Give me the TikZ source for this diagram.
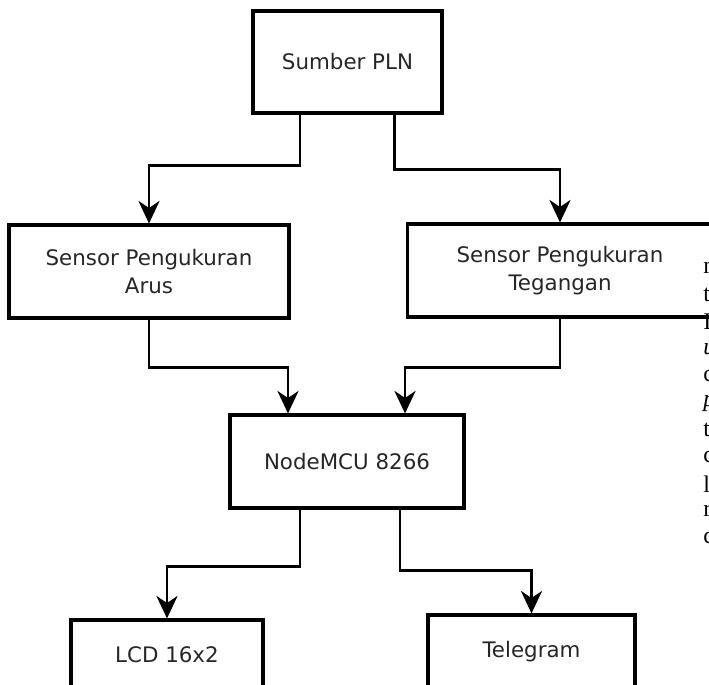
\documentclass[tikz,border=0pt]{standalone}
\usepackage{fontspec}
\setmainfont{DejaVu Sans}
\newfontfamily\halfont{Liberation Serif}
\usetikzlibrary{arrows.meta}

\begin{document}
\begin{tikzpicture}[x=0.025cm,y=-0.025cm,
    blok/.style={draw,line width=2.2pt,align=center,inner sep=0pt,
      font=\fontsize{15.2}{19.6}\selectfont,text=black!85},
    panah/.style={line width=1.9pt,-{Stealth[length=16pt,width=15pt,inset=5pt]}}]
    \useasboundingbox (0,0) rectangle (709,684);
    \clip (0,0) rectangle (709,684);
    \node[blok,minimum width=4.725cm,minimum height=2.55cm] (pln) at (347.5,62) {Sumber PLN};
    \node[blok,minimum width=7cm,minimum height=2.325cm] (arus) at (149,271.5) {Sensor Pengukuran\\Arus};
    \node[blok,minimum width=7.625cm,minimum height=2.325cm] (teg) at (560,270.5) {Sensor Pengukuran\\Tegangan};
    \node[blok,minimum width=5.85cm,minimum height=2.325cm] (mcu) at (347,461.5) {NodeMCU 8266};
    \node[blok,minimum width=4.8cm,minimum height=1.75cm] (lcd) at (167,655) {LCD 16x2};
    \node[blok,minimum width=5.175cm,minimum height=1.85cm] (tel) at (531.5,652) {Telegram};
    \draw[panah] ([xshift=-1.19cm]pln.south) -- ++(0,51) -| (arus.north);
    \draw[panah] ([xshift=1.17cm]pln.south) -- ++(0,55) -| (teg.north);
    \draw[panah] (arus.south) -- ++(0,48) -| ([xshift=-1.475cm]mcu.north);
    \draw[panah] (teg.south) -- ++(0,49) -| ([xshift=1.45cm]mcu.north);
    \draw[panah] ([xshift=-1.175cm]mcu.south) -- ++(0,57) -| (lcd.north);
    \draw[panah] ([xshift=1.325cm]mcu.south) -- ++(0,61) -| (tel.north);
    \foreach \yy/\ch in {268/m,295/t,322/I,349/\textit{u},376/c,403/\textit{p},430/t,457/c,484/l,511/r,538/c}
        {\node[anchor=west,inner sep=0pt,font=\halfont\fontsize{17}{17}\selectfont] (h\yy) at (703,\yy) {\ch};}
\end{tikzpicture}
\end{document}
